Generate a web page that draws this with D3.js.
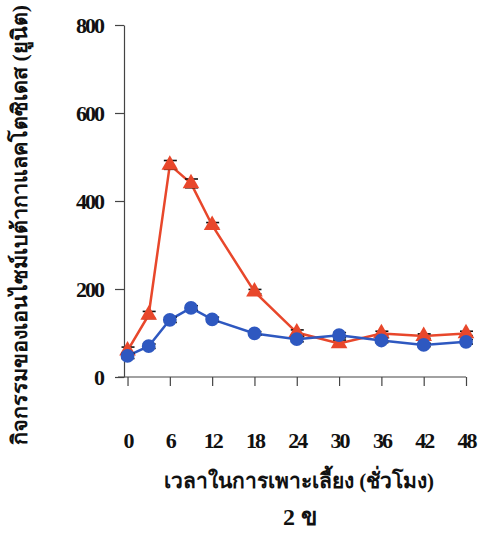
<!DOCTYPE html>
<html>
<head>
<meta charset="utf-8">
<script src="https://cdn.jsdelivr.net/npm/d3@7"></script>
<style>
  body { margin: 0; background: #fff; }
  svg { display: block; }
  .tick text { font-family: "Liberation Serif", "Times New Roman", serif; font-weight: bold; }
</style>
</head>
<body>
<svg id="chart" width="484" height="533"></svg>
<script>
// Sampling times (hours)
const hours = [0, 3, 6, 9, 12, 18, 24, 30, 36, 42, 48];
// Enzyme activity (units), two treatments
const redValues  = [60, 141, 482, 440, 345, 194, 101, 76, 99, 93, 99];
const blueValues = [48, 70, 130, 157, 131, 99, 86, 95, 83, 73, 80];
// Error (± units)
const redErr  = [8, 8, 10, 10, 6, 5, 6, 8, 5, 5, 5];
const blueErr = [6, 5, 6, 5, 5, 4, 6, 6, 5, 4, 5];
const xTicks = [0, 6, 12, 18, 24, 30, 36, 42, 48];
const yTicks = [0, 200, 400, 600, 800];

const yTitle = "กิจกรรมของเอนไซม์เบต้ากาแลคโตซิเดส (ยูนิต)";
const xTitle = "เวลาในการเพาะเลี้ยง (ชั่วโมง)";
const panel = "2 ข";

const svg = d3.select("#chart");
const x = d3.scaleLinear().domain([-0.5, 48]).range([124, 466]);
const y = d3.scaleLinear().domain([0, 800]).range([377, 25]);

const red = "#e8472b", blue = "#2e58c0";

// axes
const xAxis = svg.append("g").attr("transform", `translate(0,${y(0)})`)
  .call(d3.axisBottom(x).tickValues(xTicks).tickSizeOuter(0).tickSizeInner(9));
xAxis.select(".domain").attr("d", `M118,0H${x(48)}`);
xAxis.selectAll(".tick text").attr("y", 71).attr("dy", 0);
const yAxis = svg.append("g").attr("transform", `translate(${x(-0.5)},0)`)
  .call(d3.axisLeft(y).tickValues(yTicks).tickSizeOuter(0).tickSizeInner(9).tickPadding(12));
svg.selectAll(".domain").attr("stroke", "#444").attr("stroke-width", 1.2);
svg.selectAll(".tick line").attr("stroke", "#444").attr("stroke-width", 1.2);
svg.selectAll(".tick text").attr("font-size", 22).attr("fill", "#111").attr("letter-spacing", -2);

// series
const line = d3.line().x((d, i) => x(hours[i])).y(d => y(d));
function drawSeries(values, errs, color, shape) {
  const g = svg.append("g");
  g.append("path").datum(values).attr("d", line)
    .attr("fill", "none").attr("stroke", color).attr("stroke-width", 2.5);
  // error caps
  values.forEach((v, i) => {
    [v + errs[i], v - errs[i]].forEach(e => {
      g.append("line").attr("x1", x(hours[i]) - 6).attr("x2", x(hours[i]) + 7)
        .attr("y1", y(e)).attr("y2", y(e)).attr("stroke", "#111").attr("stroke-width", 1.6);
    });
  });
  const sym = d3.symbol().type(shape).size(shape === d3.symbolCircle ? 150 : 120);
  g.selectAll(".m").data(values).join("path")
    .attr("transform", (d, i) => `translate(${x(hours[i])},${y(d)})`)
    .attr("d", sym).attr("fill", color);
}
drawSeries(redValues, redErr, red, d3.symbolTriangle);
drawSeries(blueValues, blueErr, blue, d3.symbolCircle);

// titles
svg.append("text").attr("transform", "translate(27,225) rotate(-90)")
  .attr("text-anchor", "middle").attr("font-family", "Liberation Serif, Noto Sans, serif")
  .attr("font-weight", "bold").attr("font-size", 21.5).attr("fill", "#111").text(yTitle);
svg.append("text").attr("x", 299).attr("y", 488)
  .attr("text-anchor", "middle").attr("font-family", "Liberation Serif, Noto Sans, serif")
  .attr("font-weight", "bold").attr("font-size", 21).attr("fill", "#111").text(xTitle);
svg.append("text").attr("x", 300).attr("y", 525)
  .attr("text-anchor", "middle").attr("font-family", "Liberation Serif, Noto Sans, serif")
  .attr("font-weight", "bold").attr("font-size", 24).attr("fill", "#111").text(panel);
</script>
</body>
</html>
